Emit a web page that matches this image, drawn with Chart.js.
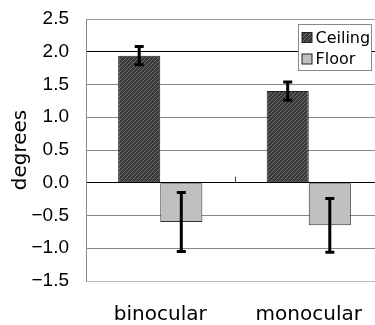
<!DOCTYPE html>
<html>
<head>
<meta charset="utf-8">
<script src="https://cdn.jsdelivr.net/npm/chart.js@4.4.0/dist/chart.umd.min.js"></script>
<style>
  html, body { margin: 0; padding: 0; background: #fff; overflow: hidden; }
  #wrap { width: 375px; height: 325px; overflow: hidden; }
</style>
</head>
<body>
<div id="wrap"><canvas id="chart" width="383" height="325"></canvas></div>
<script>
// data
const categories = ['binocular', 'monocular'];
const ceiling = [1.94, 1.40];
const ceilingErr = [0.14, 0.14];
const floor = [-0.60, -0.65];
const floorErr = [0.45, 0.41];
const yTicks = [-1.5, -1.0, -0.5, 0.0, 0.5, 1.0, 1.5, 2.0, 2.5];

// hatched fill for the Ceiling bars
function makeHatch() {
    const c = document.createElement('canvas');
    c.width = 4; c.height = 4;
    const g = c.getContext('2d');
    g.fillStyle = '#383838';
    g.fillRect(0, 0, 4, 4);
    g.strokeStyle = '#707070';
    g.lineWidth = 1;
    g.beginPath();
    g.moveTo(-1, 5); g.lineTo(5, -1);
    g.moveTo(-1, 1); g.lineTo(1, -1);
    g.moveTo(3, 5); g.lineTo(5, 3);
    g.stroke();
    return document.getElementById('chart').getContext('2d').createPattern(c, 'repeat');
}
const hatch = makeHatch();

const errorBars = {
    id: 'errorBars',
    afterDatasetsDraw(chart) {
        const ctx = chart.ctx;
        const y = chart.scales.y;
        const errs = [ceilingErr, floorErr];
        ctx.save();
        ctx.strokeStyle = '#000';
        ctx.lineWidth = 3;
        chart.data.datasets.forEach((ds, i) => {
            const meta = chart.getDatasetMeta(i);
            meta.data.forEach((bar, j) => {
                const top = y.getPixelForValue(ds.data[j] + errs[i][j]);
                const bot = y.getPixelForValue(ds.data[j] - errs[i][j]);
                ctx.beginPath();
                ctx.moveTo(bar.x, top); ctx.lineTo(bar.x, bot);
                ctx.moveTo(bar.x - 4.5, top); ctx.lineTo(bar.x + 4.5, top);
                ctx.moveTo(bar.x - 4.5, bot); ctx.lineTo(bar.x + 4.5, bot);
                ctx.stroke();
            });
        });
        // small category tick on the zero line
        const xs = chart.scales.x;
        const mid = (xs.getPixelForValue(0) + xs.getPixelForValue(1)) / 2;
        const y0 = y.getPixelForValue(0);
        ctx.lineWidth = 1;
        ctx.strokeStyle = '#444';
        ctx.beginPath();
        ctx.moveTo(Math.round(mid) + 0.5, y0 - 6);
        ctx.lineTo(Math.round(mid) + 0.5, y0);
        ctx.stroke();
        ctx.restore();
    }
};

const boxLegend = {
    id: 'boxLegend',
    afterDraw(chart) {
        const ctx = chart.ctx;
        const area = chart.chartArea;
        const x0 = 298.5, y0 = Math.round(area.top) + 5.5, w = 73, h = 46;
        ctx.save();
        ctx.fillStyle = '#fff';
        ctx.fillRect(x0, y0, w, h);
        ctx.strokeStyle = '#888';
        ctx.lineWidth = 1;
        ctx.strokeRect(x0, y0, w, h);
        ctx.font = '16px "DejaVu Sans"';
        ctx.textBaseline = 'middle';
        chart.data.datasets.forEach((ds, i) => {
            const cy = y0 + 13 + i * 21.5;
            ctx.fillStyle = ds.backgroundColor;
            ctx.fillRect(x0 + 3.5, cy - 5, 10, 10);
            ctx.strokeStyle = '#222';
            ctx.strokeRect(x0 + 3.5, cy - 5, 10, 10);
            ctx.fillStyle = '#000';
            ctx.fillText(ds.label, x0 + 17, cy + 1);
        });
        ctx.restore();
    }
};

new Chart(document.getElementById('chart'), {
    type: 'bar',
    data: {
        labels: categories,
        datasets: [{
            label: 'Ceiling',
            data: ceiling,
            backgroundColor: hatch,
            borderColor: '#222',
            borderWidth: 1,
            borderSkipped: false
        },
        {
            label: 'Floor',
            data: floor,
            backgroundColor: '#c0c0c0',
            borderColor: '#333',
            borderWidth: 1,
            borderSkipped: false
        }]
    },
    options: {
        responsive: false,
        animation: false,
        events: [],
        categoryPercentage: 0.567,
        barPercentage: 1.0,
        layout: { padding: { left: 0, top: 19, right: 0, bottom: 0 } },
        plugins: {
            legend: { display: false },
            tooltip: { enabled: false }
        },
        scales: {
            x: {
                grid: { display: false },
                border: { display: false },
                ticks: {
                    color: '#000',
                    padding: 14,
                    font: { family: '"DejaVu Sans"', size: 20 }
                },
                afterFit(scale) { scale.height = 44; }
            },
            y: {
                min: -1.5,
                max: 2.5,
                afterBuildTicks(scale) { scale.ticks = yTicks.map(v => ({ value: v })); },
                grid: {
                    drawTicks: false,
                    color(ctx) {
                        const v = ctx.tick.value;
                        if (v === 0 || v === 2) return '#000';
                        if (v === 2.5) return '#999';
                        if (v === -1.5) return '#bbb';
                        return '#888';
                    }
                },
                border: { color: '#888' },
                ticks: {
                    color: '#000',
                    padding: 17,
                    font: { family: '"Liberation Sans"', size: 19 },
                    callback: v => (v < 0 ? '\u2212' : '') + Math.abs(v).toFixed(1)
                },
                title: {
                    display: true,
                    text: 'degrees',
                    color: '#000',
                    padding: { top: 9, bottom: 0 },
                    font: { family: '"DejaVu Sans"', size: 20, lineHeight: 1.2 }
                },
                afterFit(scale) {
                    scale.width = 86;
                    scale.paddingTop = 0;
                    scale.paddingBottom = 0;
                }
            }
        }
    },
    plugins: [errorBars, boxLegend]
});
</script>
</body>
</html>
